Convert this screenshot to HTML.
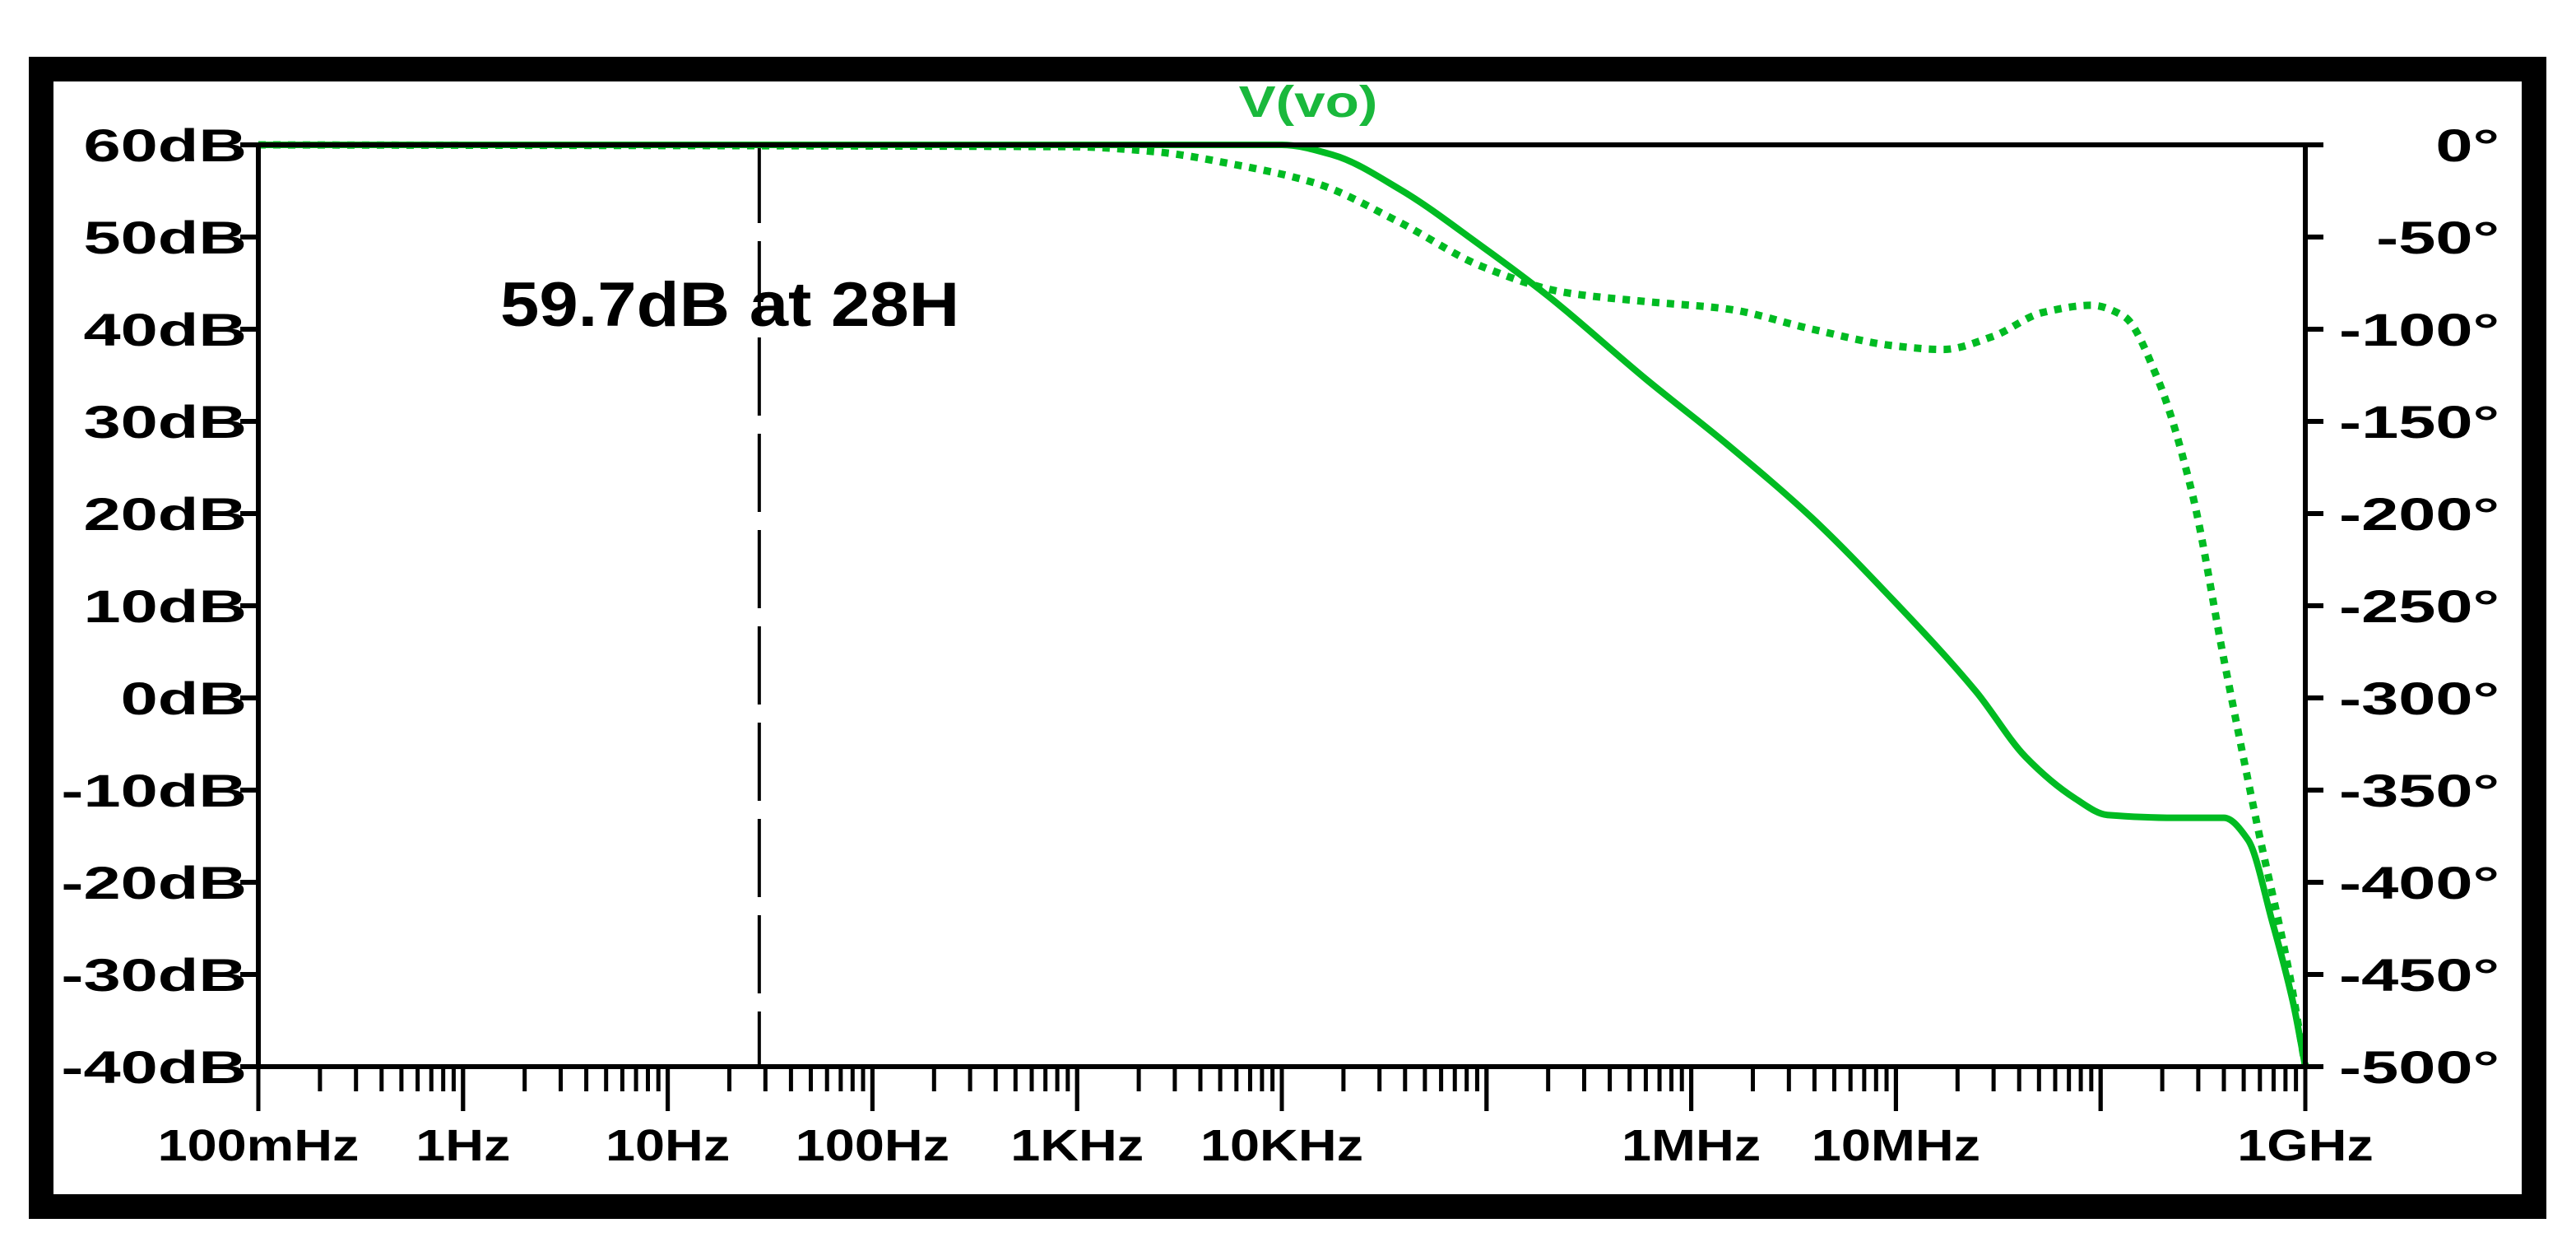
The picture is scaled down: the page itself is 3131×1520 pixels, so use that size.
<!DOCTYPE html>
<html><head><meta charset="utf-8"><style>
html,body{margin:0;padding:0;background:#fff}
svg{display:block}
text{font-family:"Liberation Sans",sans-serif;font-weight:bold}
</style></head><body>
<svg id="chart" width="3131" height="1520" viewBox="0 0 3131 1520" xmlns="http://www.w3.org/2000/svg">
<rect x="50" y="84" width="3030" height="1382" fill="none" stroke="#000" stroke-width="30"/>
<g id="grid"></g>
<g id="marks"></g>
<g id="labels"></g>
</svg>
<script>
const gainFreqs=[0.1,1e4,1.78e4,3.76e4,9.48e4,2.0e5,6.0e5,1.5e6,3.9e6,9.8e6,2.46e7,4.3e7,7.5e7,1.08e8,2.3e8,4.0e8,5.25e8,6.9e8,8.7e8,1e9];
const gainDb=[60,60,58.9,55.2,49,43.6,34.6,27.5,19.5,10.5,0.7,-6.4,-10.9,-12.7,-13,-13,-15.4,-24.3,-33,-40];
const phaseFreqs=[0.1,925,2350,5900,1.48e4,3.76e4,9.5e4,2.4e5,6.0e5,1.5e6,3.9e6,9.8e6,1.7e7,2.96e7,5.2e7,9e7,1.3e8,1.9e8,2.8e8,4e8,5.8e8,8.3e8,1e9];
const phaseDeg=[0,-1,-3.6,-10.7,-21,-42,-66,-80,-85,-89,-100,-109,-111,-104,-91,-87,-93,-127,-189,-279,-368,-448,-500];
const dbTicks=[60,50,40,30,20,10,0,-10,-20,-30,-40];
const dbTickLabels=["60dB","50dB","40dB","30dB","20dB","10dB","0dB","-10dB","-20dB","-30dB","-40dB"];
const degTicks=[0,-50,-100,-150,-200,-250,-300,-350,-400,-450,-500];
const degTickLabels=["0°","-50°","-100°","-150°","-200°","-250°","-300°","-350°","-400°","-450°","-500°"];
const freqTicks=[0.1,1,10,100,1e3,1e4,1e6,1e7,1e9];
const freqTickLabels=["100mHz","1Hz","10Hz","100Hz","1KHz","10KHz","1MHz","10MHz","1GHz"];
const cursorFreq=28;
const cursorLabel="59.7dB at 28H";
const titleText="V(vo)";

const L=314,R=2802,T=176,B=1296;
const fx=f=>L+(Math.log10(f)+1)/10*(R-L);
const gy=d=>T+(60-d)/100*(B-T);
const py=p=>T+(-p)/500*(B-T);
const NS="http://www.w3.org/2000/svg";
const mk=(t,a,p)=>{const e=document.createElementNS(NS,t);for(const k in a)e.setAttribute(k,a[k]);p.appendChild(e);return e;};
const grid=document.getElementById('grid'),marks=document.getElementById('marks'),labels=document.getElementById('labels');
const G="#00bb22";

function smooth(pts){
  const n=pts.length,sec=[],m=[];
  for(let i=0;i<n-1;i++)sec.push((pts[i+1][1]-pts[i][1])/(pts[i+1][0]-pts[i][0]));
  for(let i=0;i<n;i++){
    if(i===0)m.push(sec[0]);else if(i===n-1)m.push(sec[n-2]);
    else m.push(sec[i-1]*sec[i]<=0?0:2/(1/sec[i-1]+1/sec[i]));
  }
  let d='M'+pts[0][0].toFixed(1)+','+pts[0][1].toFixed(1);
  for(let i=0;i<n-1;i++){
    const dx=(pts[i+1][0]-pts[i][0])/3;
    d+=` C${(pts[i][0]+dx).toFixed(1)},${(pts[i][1]+m[i]*dx).toFixed(1)} ${(pts[i+1][0]-dx).toFixed(1)},${(pts[i+1][1]-m[i+1]*dx).toFixed(1)} ${pts[i+1][0].toFixed(1)},${pts[i+1][1].toFixed(1)}`;
  }
  return d;
}

const cx=fx(cursorFreq);
const cur=mk('line',{x1:cx,y1:T,x2:cx,y2:B,stroke:"#000","stroke-width":4,"stroke-dasharray":"95 22"},grid);



const gp=mk('path',{d:smooth(gainFreqs.map((f,i)=>[fx(f),gy(gainDb[i])])),fill:"none",stroke:G,"stroke-width":8,"stroke-linejoin":"round"},marks);


const pp=mk('path',{d:smooth(phaseFreqs.map((f,i)=>[fx(f),py(phaseDeg[i])])),fill:"none",stroke:G,"stroke-width":9,"stroke-dasharray":"9 9"},marks);



const ax=mk('rect',{x:L,y:T,width:R-L,height:B-T,fill:"none",stroke:"#000","stroke-width":6},labels);



function txt(s,x,y,size,anchor,sx,fill,name){
  const t=mk('text',{x:0,y:0,"font-size":size,"text-anchor":anchor,fill:fill,transform:`translate(${x},${y}) scale(${sx},1)`},labels);
  t.textContent=s;
  
  
  return t;
}
dbTicks.forEach((v,i)=>{
  const y=gy(v);
  const l=mk('line',{x1:L-22,y1:y,x2:L,y2:y,stroke:"#000","stroke-width":6},labels);
  
  
  txt(dbTickLabels[i],300,y+20,56,"end",1.45,"#000",'y-left-tick-label');
});
degTicks.forEach((v,i)=>{
  const y=py(v);
  const l=mk('line',{x1:R,y1:y,x2:R+22,y2:y,stroke:"#000","stroke-width":6},labels);
  
  
  txt(degTickLabels[i],3038,y+20,56,"end",1.45,"#000",'y-right-tick-label');
});
for(let dec=-1;dec<9;dec++){
  for(let m=1;m<=10;m++){
    const f=m*Math.pow(10,dec);
    const x=fx(f);
    const major=(m===1||m===10);
    const l=mk('line',{x1:x,y1:B,x2:x,y2:B+(major?54:30),stroke:"#000","stroke-width":5},labels);
    
    
  }
}
freqTicks.forEach((f,i)=>{
  txt(freqTickLabels[i],fx(f),1410,54,"middle",1.2,"#000",'x-tick-label');
});
txt(titleText,1590,142,54,"middle",1.25,"#1ab83c",'chart-title');
txt(cursorLabel,608,396,76,"start",1.12,"#000",'cursor-annotation');
</script>
</body></html>
